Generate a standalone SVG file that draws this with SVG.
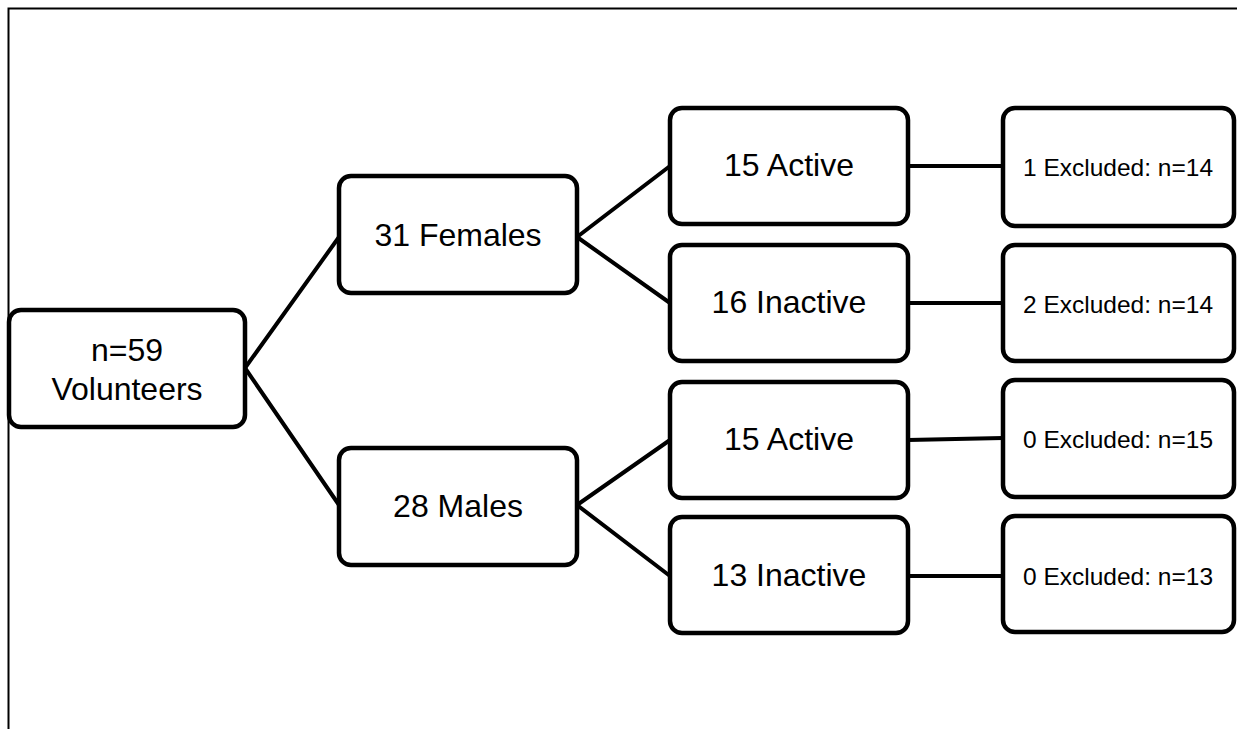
<svg xmlns="http://www.w3.org/2000/svg" width="1237" height="729" viewBox="0 0 1237 729">
<style>
.box{fill:#fff;stroke:#000;stroke-width:4.5}
.lbl{font-family:"Liberation Sans",Arial,sans-serif;font-size:32px;fill:#000;text-anchor:middle;dominant-baseline:central}
.sm{font-family:"Liberation Sans",Arial,sans-serif;font-size:24.5px;fill:#000;text-anchor:middle;dominant-baseline:central}
.conn{stroke:#000;stroke-width:4;fill:none;stroke-linecap:round}
</style>
<rect x="0" y="0" width="1237" height="729" fill="#fff"/>
<path d="M8.5 729 V8.5 H1237" fill="none" stroke="#000" stroke-width="2"/>
<g id="connectors">
<line class="conn" x1="245" y1="368" x2="339" y2="237"/>
<line class="conn" x1="245" y1="368" x2="339" y2="505"/>
<line class="conn" x1="577" y1="237" x2="670" y2="166"/>
<line class="conn" x1="577" y1="237" x2="670" y2="303"/>
<line class="conn" x1="577" y1="505" x2="670" y2="440"/>
<line class="conn" x1="577" y1="505" x2="670" y2="576"/>
<line class="conn" x1="908" y1="166" x2="1003" y2="166"/>
<line class="conn" x1="908" y1="303" x2="1003" y2="303"/>
<line class="conn" x1="908" y1="440" x2="1003" y2="438"/>
<line class="conn" x1="908" y1="576" x2="1003" y2="576"/>
</g>
<g id="n-volunteers">
<rect class="box" x="9" y="310" width="236" height="117" rx="12"/>
<text class="lbl" x="127" y="350">n=59</text>
<text class="lbl" x="127" y="389">Volunteers</text>
</g>
<g id="n-females">
<rect class="box" x="339" y="176" width="238" height="117" rx="12"/>
<text class="lbl" x="458" y="235">31 Females</text>
</g>
<g id="n-males">
<rect class="box" x="339" y="448" width="238" height="117" rx="12"/>
<text class="lbl" x="458" y="506">28 Males</text>
</g>
<g id="n-f-active">
<rect class="box" x="670" y="108" width="238" height="116" rx="12"/>
<text class="lbl" x="789" y="165">15 Active</text>
</g>
<g id="n-f-inactive">
<rect class="box" x="670" y="245" width="238" height="116" rx="12"/>
<text class="lbl" x="789" y="302">16 Inactive</text>
</g>
<g id="n-m-active">
<rect class="box" x="670" y="382" width="238" height="116" rx="12"/>
<text class="lbl" x="789" y="439">15 Active</text>
</g>
<g id="n-m-inactive">
<rect class="box" x="670" y="517" width="238" height="116" rx="12"/>
<text class="lbl" x="789" y="575">13 Inactive</text>
</g>
<g id="n-ex1">
<rect class="box" x="1003" y="108" width="231" height="118" rx="12"/>
<text class="sm" x="1118" y="167">1 Excluded: n=14</text>
</g>
<g id="n-ex2">
<rect class="box" x="1003" y="245" width="231" height="116" rx="12"/>
<text class="sm" x="1118" y="304">2 Excluded: n=14</text>
</g>
<g id="n-ex3">
<rect class="box" x="1003" y="380" width="231" height="117" rx="12"/>
<text class="sm" x="1118" y="439">0 Excluded: n=15</text>
</g>
<g id="n-ex4">
<rect class="box" x="1003" y="516" width="231" height="116" rx="12"/>
<text class="sm" x="1118" y="576">0 Excluded: n=13</text>
</g>
</svg>
